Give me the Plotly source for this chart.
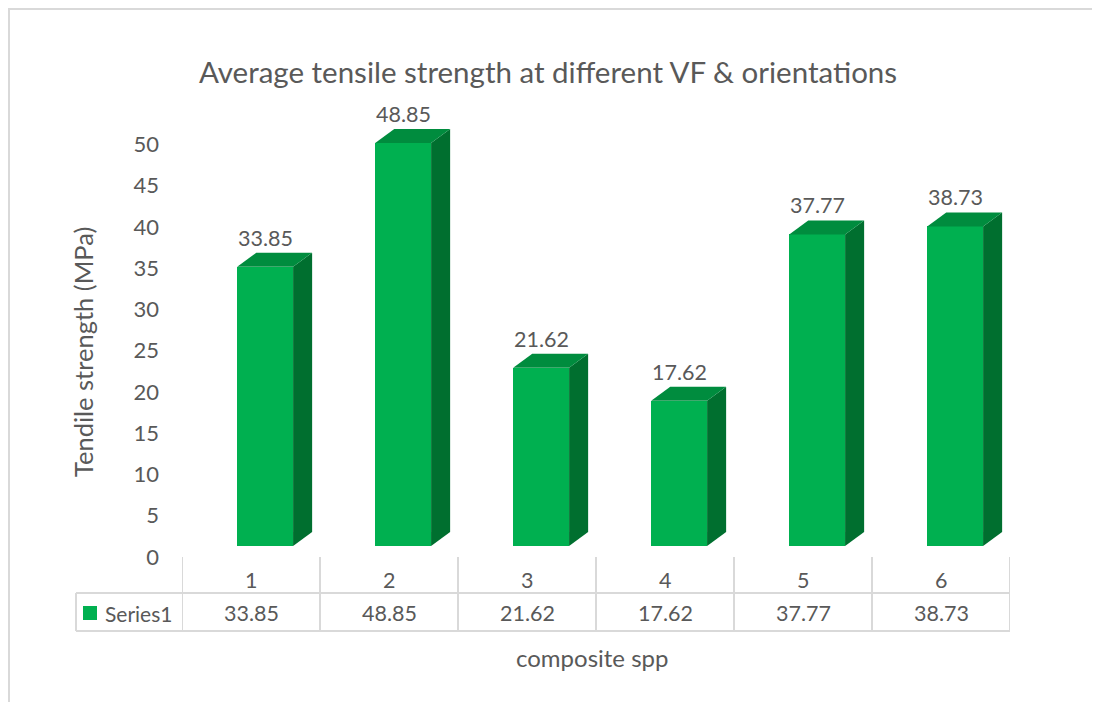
import plotly.graph_objects as go

# datos
categorias = ["1", "2", "3", "4", "5", "6"]
valores = [33.85, 48.85, 21.62, 17.62, 37.77, 38.73]
serie = "Series1"
titulo = "Average tensile strength at different VF & orientations"
titulo_y = "Tendile strength (MPa)"
titulo_x = "composite spp"

# la pagina deja 8 px de margen arriba y a la izquierda
OFF = 8
W, H = 1100 - OFF, 702 - OFF
# area de trazado en pixeles de la captura
L, R, T, B = 182, 1010, 120, 546
FUENTE = "Lato"
GRIS = "#595959"
LINEA = "#d9d9d9"

def px_x(p):
    return (p - L) / (R - L)

def px_y(p):
    return (B - p) / (B - T)

def texto(x, y, t, size, xref="paper", **kw):
    fig.add_annotation(x=x, y=y, xref=xref, yref="paper", text=t, showarrow=False,
                       xanchor=kw.pop("xanchor", "center"), yanchor="middle",
                       font=dict(family=FUENTE, size=size, color=GRIS), **kw)

# geometria de las barras 3D
ancho = 0.405
desde = -0.1
dx = 0.138
escala = 8.25
dy = 14 / escala
ymax = (B - T) / escala

fig = go.Figure()

xs = list(range(1, len(categorias) + 1))

# cara frontal
fig.add_trace(go.Bar(
    x=xs, y=valores, width=ancho, offset=desde,
    marker=dict(color="#00b050", line=dict(width=0)),
    hoverinfo="skip", showlegend=False
))

# caras lateral y superior
for x, v in zip(xs, valores):
    x0 = x + desde
    x1 = x0 + ancho
    fig.add_trace(go.Scatter(
        x=[x1, x1 + dx, x1 + dx, x1, x1], y=[0, dy, v + dy, v, 0],
        mode="lines", fill="toself", fillcolor="#006f2f",
        line=dict(width=0), hoverinfo="skip", showlegend=False
    ))
    fig.add_trace(go.Scatter(
        x=[x0, x1, x1 + dx, x0 + dx, x0], y=[v, v, v + dy, v + dy, v],
        mode="lines", fill="toself", fillcolor="#008c3e",
        line=dict(width=0), hoverinfo="skip", showlegend=False
    ))
    fig.add_annotation(
        x=x0 + ancho / 2, y=v + dy, text=f"{v:.2f}", showarrow=False,
        xanchor="center", yanchor="bottom", yshift=0,
        font=dict(family=FUENTE, size=21.5, color=GRIS)
    )

shapes = []
# tabla de datos
y_top = px_y(557)
y_mid = px_y(593)
y_bot = px_y(631)
for k in range(len(categorias) + 1):
    shapes.append(dict(type="line", xref="x", yref="paper",
                       x0=k + 0.5, x1=k + 0.5, y0=y_top, y1=y_bot,
                       line=dict(color=LINEA, width=2)))
for yy in (y_mid, y_bot):
    shapes.append(dict(type="line", xref="paper", yref="paper",
                       x0=px_x(76), x1=1, y0=yy, y1=yy,
                       line=dict(color=LINEA, width=2)))
shapes.append(dict(type="line", xref="paper", yref="paper",
                   x0=px_x(76), x1=px_x(76), y0=y_mid, y1=y_bot,
                   line=dict(color=LINEA, width=2)))
# marcador de la serie
shapes.append(dict(type="rect", xref="paper", yref="paper",
                   x0=px_x(83), x1=px_x(97), y0=px_y(620), y1=px_y(606),
                   fillcolor="#00b050", line=dict(width=0)))
# borde del grafico
shapes.append(dict(type="line", xref="paper", yref="paper",
                   x0=px_x(9), x1=px_x(9), y0=px_y(8), y1=px_y(702),
                   line=dict(color=LINEA, width=2)))
shapes.append(dict(type="line", xref="paper", yref="paper",
                   x0=px_x(8), x1=px_x(1100), y0=px_y(9), y1=px_y(9),
                   line=dict(color=LINEA, width=2)))

for x, c, v in zip(xs, categorias, valores):
    texto(x, px_y(580), c, 21.5, xref="x")
    texto(x, px_y(613), f"{v:.2f}", 21.5, xref="x")

texto(px_x(103), px_y(613), serie, 21, xanchor="left")
texto(px_x(592), px_y(657), titulo_x, 24)
texto(px_x(83), px_y(352), titulo_y, 25.5, textangle=-90)
texto(px_x(548), px_y(72), titulo, 29.5)

fig.update_layout(
    width=W, height=H,
    margin=dict(l=L - OFF, r=1100 - R, t=T - OFF, b=702 - B),
    paper_bgcolor="white", plot_bgcolor="white",
    shapes=shapes,
    xaxis=dict(range=[0.5, len(categorias) + 0.5], showticklabels=False,
               showgrid=False, zeroline=False, showline=False),
    yaxis=dict(range=[0, ymax], tickvals=list(range(0, 55, 5)),
               showgrid=False, zeroline=False, showline=False,
               ticks="", ticklabelshift=11, ticklabelstandoff=22,
               tickfont=dict(family=FUENTE, size=22, color=GRIS)),
    bargap=0,
)

fig.write_html("out.html")
